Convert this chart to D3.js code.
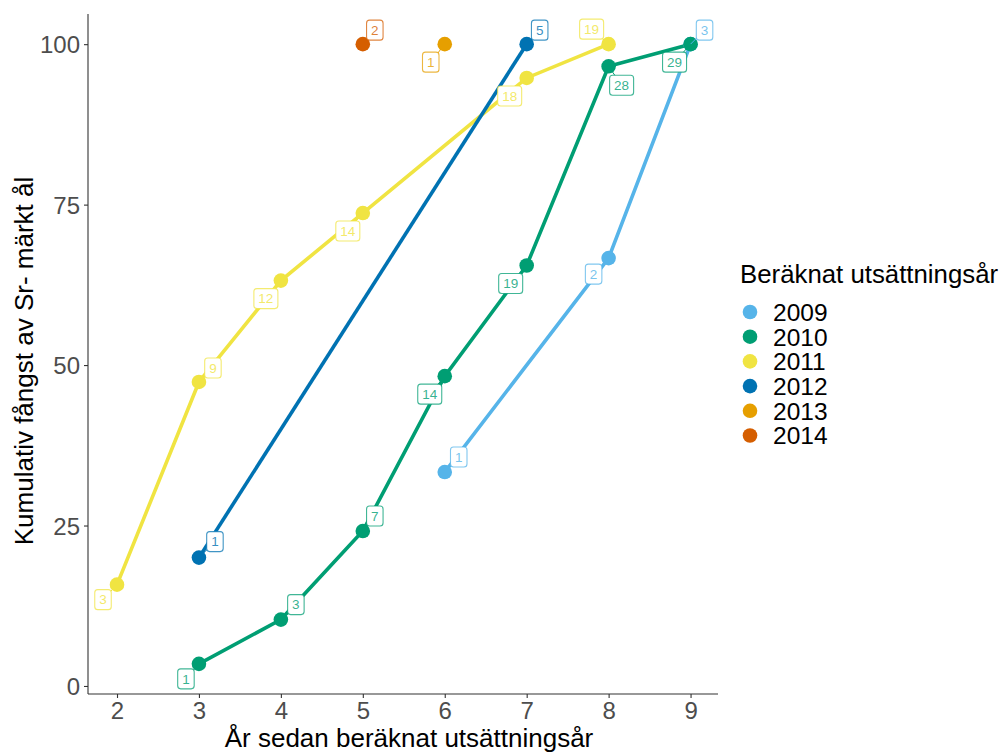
<!DOCTYPE html>
<html>
<head>
<meta charset="utf-8">
<script src="https://cdn.jsdelivr.net/npm/d3@7"></script>
<style>
  body { margin: 0; background: #fff; }
  svg { display: block; font-family: "Liberation Sans", Arial, sans-serif; }
</style>
</head>
<body>
<svg id="chart" width="1001" height="753"></svg>
<script>
// Release cohorts and their colours
const cohorts = ["2009", "2010", "2011", "2012", "2013", "2014"];
const cohortColors = ["#56B4E9", "#009E73", "#F0E442", "#0072B2", "#E69F00", "#D55E00"];

// Years since estimated release, per cohort
const years2009 = [6, 8, 9];
const years2010 = [3, 4, 5, 6, 7, 8, 9];
const years2011 = [2, 3, 4, 5, 7, 8];
const years2012 = [3, 7];
const years2013 = [6];
const years2014 = [5];

// Cumulative number of Sr-marked eels caught (label values)
const counts2009 = [1, 2, 3];
const counts2010 = [1, 3, 7, 14, 19, 28, 29];
const counts2011 = [3, 9, 12, 14, 18, 19];
const counts2012 = [1, 5];
const counts2013 = [1];
const counts2014 = [2];

const xTicks = [2, 3, 4, 5, 6, 7, 8, 9];
const yTicks = [0, 25, 50, 75, 100];

// Label placement offsets (px) from each point, per cohort
const nudge2009 = [[14, -15], [-15, 16], [14, -14]];
const nudge2010 = [[-13, 15], [15, -15], [12, -15], [-15, 18], [-16, 18], [13, 19], [-16, 18]];
const nudge2011 = [[-14, 15], [14, -14], [-15, 18], [-15, 18], [-17, 18], [-17, -15]];
const nudge2012 = [[16, -16], [13, -14]];
const nudge2013 = [[-14, 18]];
const nudge2014 = [[12, -14]];

const yearsAll = [years2009, years2010, years2011, years2012, years2013, years2014];
const countsAll = [counts2009, counts2010, counts2011, counts2012, counts2013, counts2014];
const nudgeAll = [nudge2009, nudge2010, nudge2011, nudge2012, nudge2013, nudge2014];

// Cumulative percentage of each cohort's total catch
const series = cohorts.map((c, i) => {
  const cnt = countsAll[i];
  const total = cnt[cnt.length - 1];
  return {
    cohort: c,
    color: cohortColors[i],
    points: yearsAll[i].map((yr, j) => ({
      x: yr, n: cnt[j], y: cnt[j] / total * 100, nudge: nudgeAll[i][j]
    }))
  };
});

const svg = d3.select("#chart");
const panel = { left: 88, right: 718, top: 14, bottom: 694 };

const x = d3.scaleLinear().domain([1.646, 9.335]).range([panel.left, panel.right]);
const y = d3.scaleLinear().domain([-1.25, 104.7]).range([panel.bottom, panel.top]);

const axisGrey = "#4d4d4d";

// Axes
const xAxis = svg.append("g")
  .attr("transform", `translate(0,${panel.bottom})`)
  .call(d3.axisBottom(x).tickValues(xTicks).tickFormat(d3.format("d")).tickSizeOuter(0).tickSize(4).tickPadding(4));
const yAxis = svg.append("g")
  .attr("transform", `translate(${panel.left},0)`)
  .call(d3.axisLeft(y).tickValues(yTicks).tickFormat(d3.format("d")).tickSizeOuter(0).tickSize(4).tickPadding(4));

[xAxis, yAxis].forEach(g => {
  g.select(".domain").attr("stroke", "#333").attr("stroke-width", 1.1);
  g.selectAll(".tick line").attr("stroke", "#333").attr("stroke-width", 1.1);
  g.selectAll(".tick text").attr("fill", axisGrey).attr("font-size", 24)
    .attr("font-family", "Liberation Sans, Arial, sans-serif");
});
// Extend axis lines to the panel edges
xAxis.select(".domain").attr("d", `M${panel.left},0H${panel.right}`);
yAxis.select(".domain").attr("d", `M0,${panel.bottom}V${panel.top}`);
yAxis.selectAll(".tick text").attr("dy", "0.36em");

// Axis titles
svg.append("text")
  .attr("x", 409)
  .attr("y", 747)
  .attr("text-anchor", "middle")
  .attr("font-size", 26)
  .attr("fill", "#000")
  .text("År sedan beräknat utsättningsår");

svg.append("text")
  .attr("transform", `translate(33,361) rotate(-90)`)
  .attr("text-anchor", "middle")
  .attr("font-size", 26)
  .attr("fill", "#000")
  .text("Kumulativ fångst av Sr- märkt ål");

// Lines
const line = d3.line().x(d => x(d.x)).y(d => y(d.y));
const plot = svg.append("g");
plot.selectAll("path.cohort")
  .data(series.filter(s => s.points.length > 1))
  .join("path")
  .attr("class", "cohort")
  .attr("d", s => line(s.points))
  .attr("fill", "none")
  .attr("stroke", s => s.color)
  .attr("stroke-width", 3.6);

// Points
series.forEach(s => {
  plot.selectAll(null)
    .data(s.points)
    .join("circle")
    .attr("cx", d => x(d.x))
    .attr("cy", d => y(d.y))
    .attr("r", 7.3)
    .attr("fill", s.color);
});

// Count labels with leader segments
const labels = svg.append("g").attr("font-size", 13.5);
series.forEach(s => {
  s.points.forEach(d => {
    const px = x(d.x), py = y(d.y);
    const lx = px + d.nudge[0], ly = py + d.nudge[1];
    labels.append("line")
      .attr("x1", px).attr("y1", py).attr("x2", lx).attr("y2", ly)
      .attr("stroke", s.color).attr("stroke-width", 1);
    const txt = String(d.n);
    const w = txt.length * 7.5 + 9, h = 20;
    labels.append("rect")
      .attr("x", lx - w / 2).attr("y", ly - h / 2)
      .attr("width", w).attr("height", h)
      .attr("rx", 3).attr("ry", 3)
      .attr("fill", "#fff")
      .attr("stroke", s.color).attr("stroke-opacity", 0.75)
      .attr("stroke-width", 1.1);
    labels.append("text")
      .attr("x", lx).attr("y", ly)
      .attr("dy", "0.36em")
      .attr("text-anchor", "middle")
      .attr("fill", s.color).attr("fill-opacity", 0.8)
      .text(txt);
  });
});

// Legend
const legend = svg.append("g").attr("transform", "translate(740,0)");
legend.append("text")
  .attr("x", 0).attr("y", 283)
  .attr("font-size", 25.8)
  .attr("fill", "#000")
  .text("Beräknat utsättningsår");
cohorts.forEach((c, i) => {
  const cy = 312 + i * 24.7;
  legend.append("circle").attr("cx", 10).attr("cy", cy).attr("r", 7.3).attr("fill", cohortColors[i]);
  legend.append("text")
    .attr("x", 33).attr("y", cy).attr("dy", "0.36em")
    .attr("font-size", 24.5)
    .attr("fill", "#000")
    .text(c);
});
</script>
</body>
</html>
